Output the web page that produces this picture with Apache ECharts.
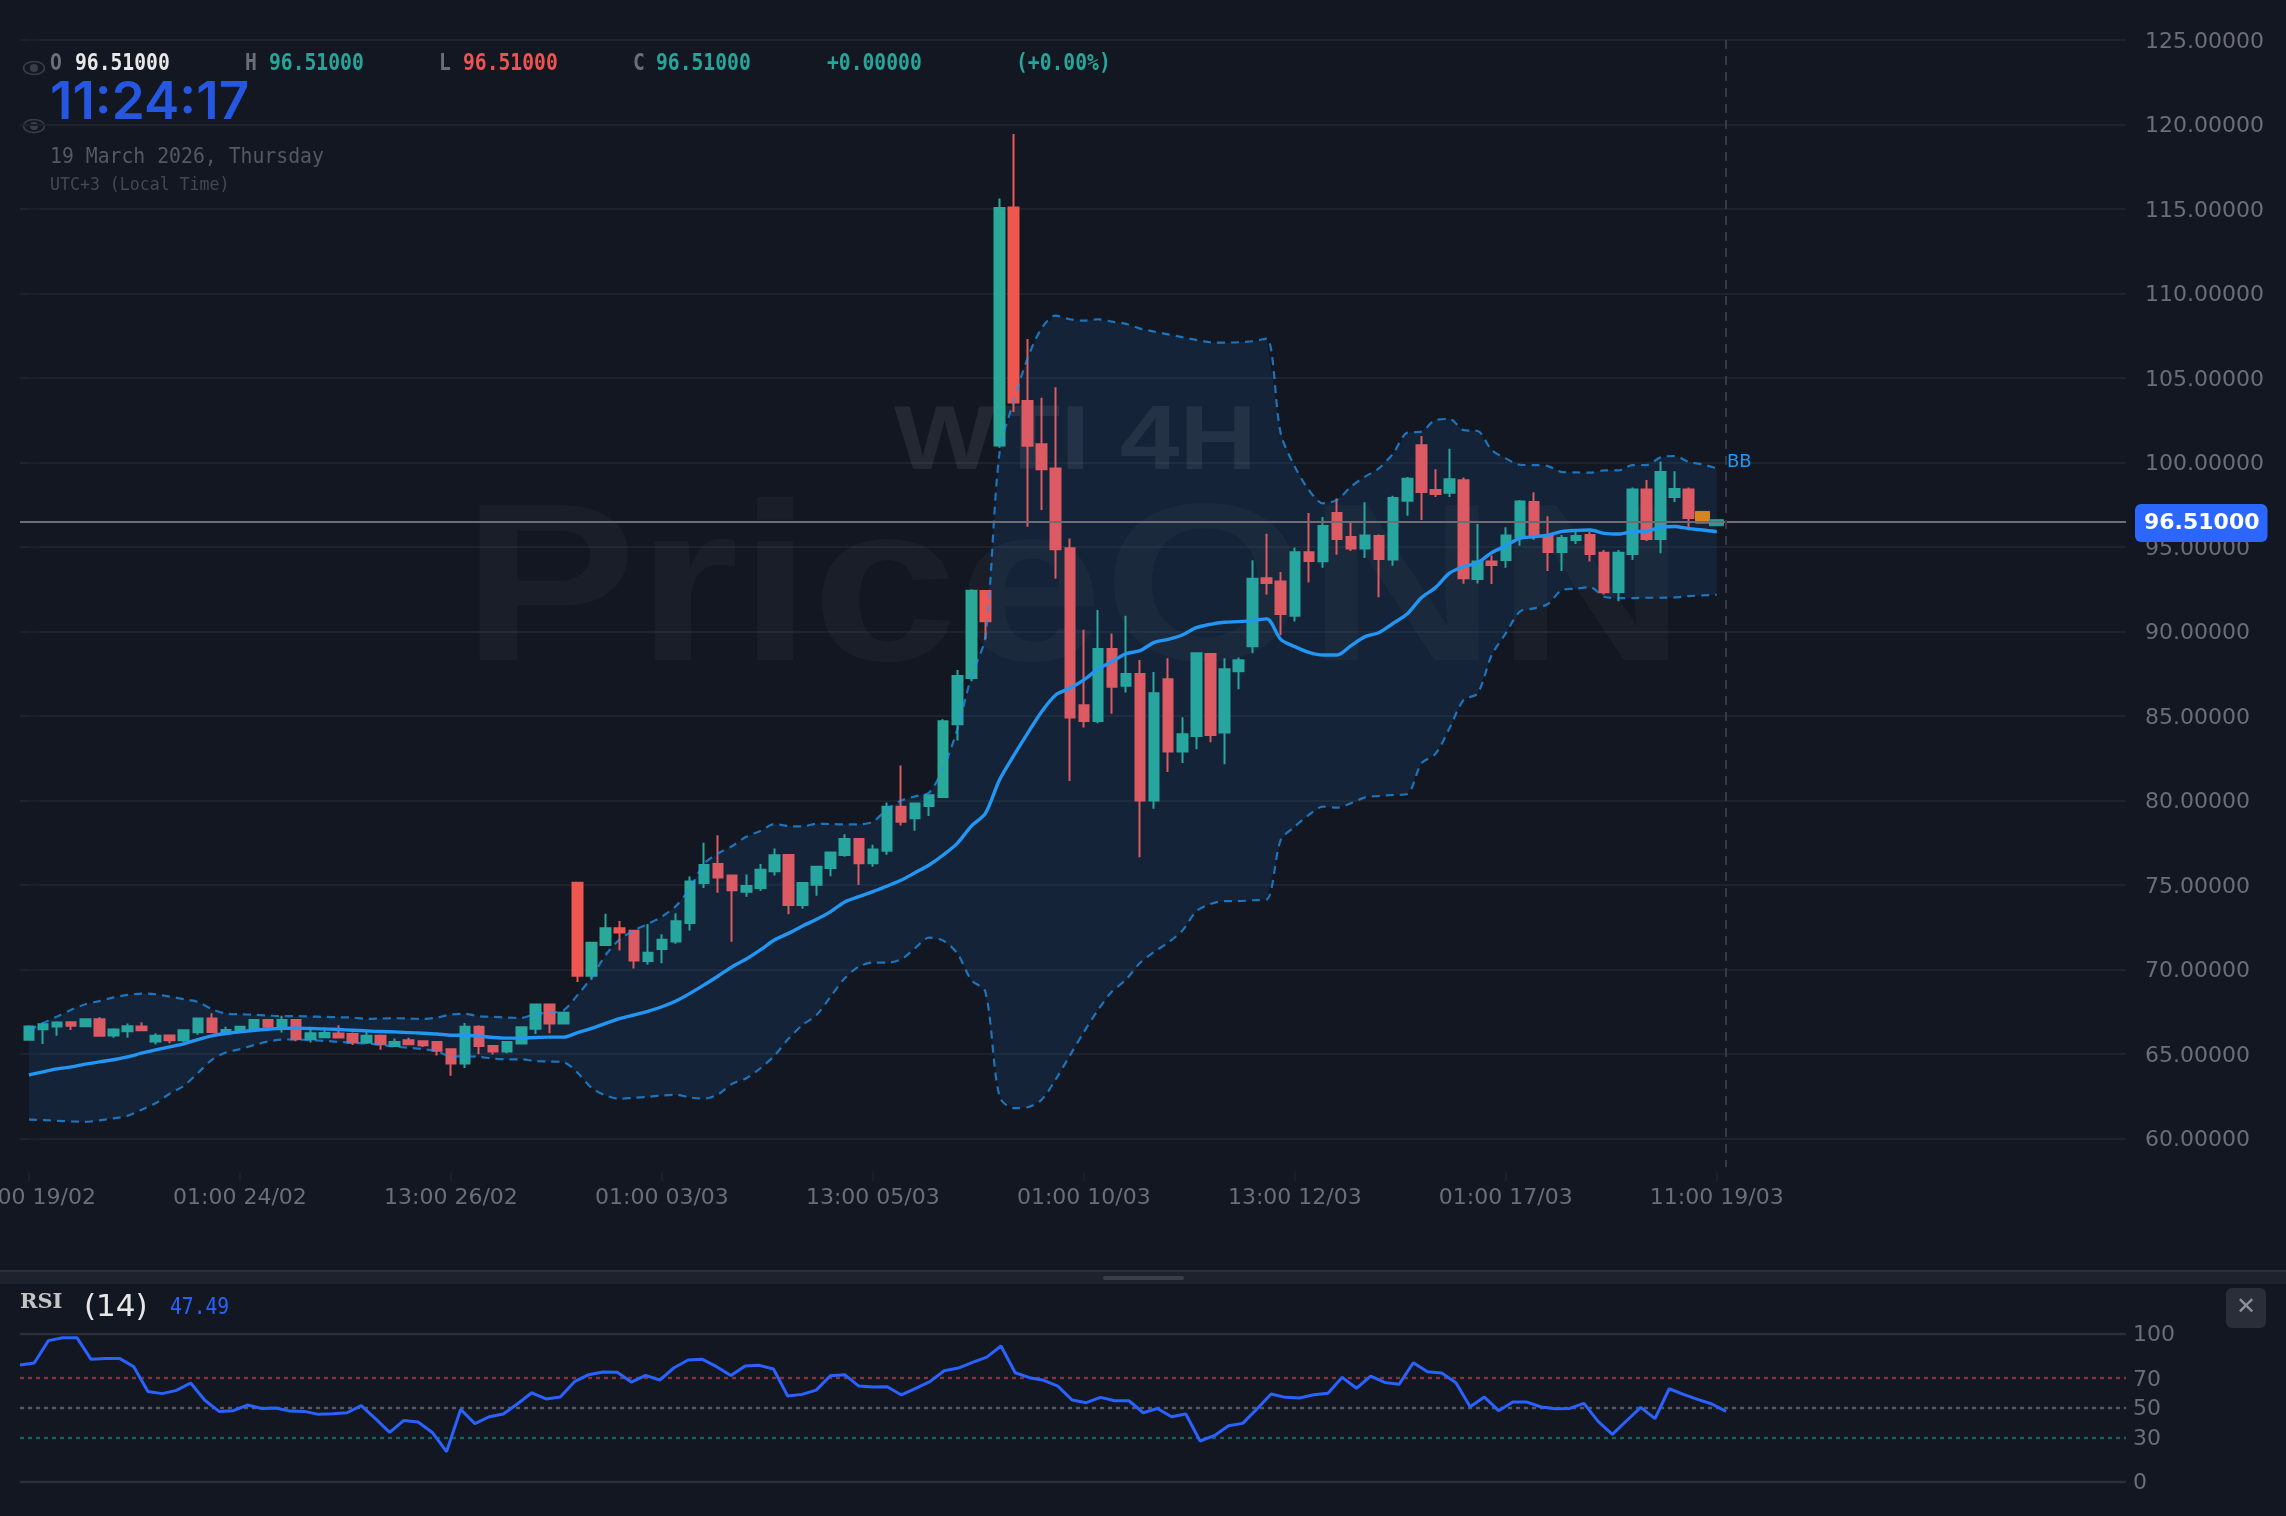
<!DOCTYPE html>
<html><head><meta charset="utf-8">
<style>html,body{margin:0;padding:0;background:#131722;overflow:hidden}#c{width:2286px;height:1516px}</style>
<script src="https://cdn.jsdelivr.net/npm/echarts@6/dist/echarts.min.js"></script>
</head><body><div id="c"></div>
<script>
const xTickLabels=["13:00 19/02","01:00 24/02","13:00 26/02","01:00 03/03","13:00 05/03","01:00 10/03","13:00 12/03","01:00 17/03","11:00 19/03"];
const priceTicks=[60,65,70,75,80,85,90,95,100,105,110,115,120,125];
const rsiTicks=[0,30,50,70,100];
const lastPrice=96.51;
const opens=[65.84,66.47,66.63,66.88,66.65,67.06,66.10,66.35,66.63,65.74,66.10,65.82,66.29,67.10,66.23,66.33,66.49,67.02,66.63,67.02,65.88,66.00,66.21,66.19,65.68,66.08,65.48,65.82,65.76,65.72,65.29,64.44,66.61,65.48,65.15,65.62,66.49,67.93,66.81,75.13,69.63,71.46,72.45,72.29,70.51,71.22,71.66,72.76,75.12,76.25,75.56,74.61,74.83,75.81,76.78,73.82,75.02,76.01,76.78,77.72,76.29,77.03,79.64,78.95,79.68,80.21,84.51,87.25,92.40,101.01,115.09,103.65,101.09,99.65,94.93,85.64,84.71,88.97,86.80,87.49,80.00,87.18,82.91,83.82,88.67,84.02,87.65,89.13,93.15,92.97,90.94,94.69,94.16,97.02,95.60,94.91,95.66,94.26,97.74,101.02,98.37,98.22,98.95,93.11,94.15,94.23,95.57,97.66,95.69,94.71,95.42,95.71,94.67,92.34,94.59,98.41,95.48,97.96,98.41,97.11,96.26];
const closes=[66.63,66.77,66.87,66.67,67.06,66.08,66.45,66.65,66.41,66.08,65.82,66.41,67.10,66.31,66.43,66.61,67.02,66.61,67.02,65.88,66.23,66.25,65.98,65.68,66.08,65.58,65.72,65.58,65.52,65.19,64.44,66.61,65.48,65.15,65.72,66.59,67.93,66.81,67.44,69.63,71.58,72.45,72.19,70.53,70.99,71.76,72.86,75.21,76.19,75.44,74.69,74.94,75.91,76.76,73.82,75.12,76.09,76.92,77.72,76.29,77.11,79.64,78.75,79.82,80.31,84.69,87.37,92.42,90.61,115.07,103.55,101.00,99.61,94.87,84.91,84.71,88.97,86.74,87.49,80.00,86.35,82.91,83.92,88.71,83.88,87.77,88.30,93.13,92.88,91.04,94.69,94.18,96.25,95.48,94.91,95.68,94.30,97.90,99.05,98.26,98.14,99.01,93.15,94.15,93.94,95.69,97.70,95.61,94.71,95.53,95.65,94.59,92.32,94.67,98.41,95.48,99.44,98.43,96.72,96.42,96.62];
const lows=[65.82,65.60,66.08,66.43,66.63,66.02,65.96,65.96,66.39,65.56,65.64,65.72,66.14,66.25,66.19,66.29,66.47,66.43,66.27,65.76,65.68,65.96,65.92,65.54,65.60,65.25,65.44,65.56,65.42,64.91,63.71,64.18,65.01,64.97,65.05,65.58,66.19,66.23,66.79,69.27,69.39,71.44,71.13,70.06,70.28,70.38,71.52,72.31,74.83,74.55,71.65,74.31,74.65,75.56,73.27,73.60,74.37,75.52,76.68,75.00,76.09,76.80,78.53,78.22,79.09,80.21,83.55,87.06,89.54,100.87,103.00,96.20,97.20,93.13,81.16,84.32,84.57,85.14,86.39,76.64,79.52,81.69,82.22,83.03,83.45,82.15,86.58,88.71,92.20,89.78,90.59,92.90,93.78,94.55,94.77,94.35,92.03,93.90,96.86,96.60,97.96,97.96,92.83,92.85,92.81,93.78,95.08,95.44,93.58,93.58,95.18,94.15,92.20,91.79,94.23,95.36,94.63,97.66,96.13,96.42,96.26];
const highs=[66.71,66.87,66.94,66.90,67.08,67.18,66.53,66.81,66.88,66.23,66.16,66.45,67.12,67.42,66.61,66.63,67.08,67.04,67.26,67.04,66.43,66.43,66.71,66.27,66.35,66.16,65.92,65.96,65.80,65.76,65.31,66.83,66.71,65.50,65.76,66.61,67.95,67.95,67.52,75.13,71.58,73.30,72.88,72.35,72.70,72.09,73.33,75.50,77.51,77.94,75.56,75.63,76.25,77.17,76.78,75.12,76.13,76.94,78.00,77.72,77.39,79.89,82.08,79.84,80.35,84.81,87.73,92.50,92.46,115.62,119.45,107.32,103.83,104.46,95.50,90.11,91.28,89.88,90.94,88.32,87.61,88.42,84.93,88.77,88.67,88.42,88.46,94.22,95.79,93.53,94.97,97.02,96.78,97.87,96.43,97.65,95.74,98.04,99.14,101.57,99.60,100.82,99.12,96.36,94.51,96.17,97.78,98.24,96.82,95.71,95.95,95.91,94.82,94.82,98.53,98.97,100.07,99.48,98.53,97.11,96.62];
const bbMid=[63.77,63.95,64.12,64.24,64.40,64.54,64.66,64.83,65.05,65.25,65.42,65.60,65.86,66.08,66.21,66.31,66.41,66.47,66.53,66.53,66.51,66.49,66.45,66.41,66.37,66.33,66.31,66.27,66.23,66.19,66.11,66.11,66.06,65.98,65.94,65.94,65.98,66.00,66.00,66.27,66.52,66.82,67.09,67.31,67.53,67.80,68.14,68.59,69.09,69.62,70.17,70.62,71.16,71.75,72.14,72.58,72.97,73.43,74.00,74.31,74.61,74.94,75.28,75.73,76.19,76.78,77.47,78.49,79.24,81.22,82.64,83.98,85.26,86.25,86.64,87.14,87.77,88.22,88.69,88.87,89.36,89.54,89.80,90.23,90.43,90.55,90.59,90.65,90.75,89.54,89.11,88.77,88.61,88.61,89.17,89.70,89.94,90.49,91.05,92.00,92.60,93.46,93.84,94.07,94.67,95.08,95.51,95.61,95.71,95.93,95.99,96.01,95.81,95.77,95.91,95.93,96.17,96.22,96.09,96.01,95.91];
const bbUp=[66.41,66.83,67.22,67.62,67.95,68.13,68.35,68.50,68.58,68.54,68.40,68.25,68.09,67.66,67.40,67.36,67.32,67.28,67.24,67.24,67.22,67.20,67.18,67.16,67.08,67.10,67.12,67.10,67.08,67.16,67.34,67.38,67.24,67.20,67.16,67.14,67.38,67.44,67.58,68.49,69.54,70.86,71.79,72.30,72.70,73.13,73.76,74.81,76.25,76.88,77.31,77.86,78.20,78.61,78.49,78.47,78.63,78.61,78.59,78.59,78.75,79.48,80.00,80.25,80.47,81.91,84.20,87.33,89.70,100.55,103.61,106.17,107.95,108.70,108.48,108.40,108.48,108.34,108.21,107.93,107.75,107.59,107.42,107.26,107.12,107.10,107.12,107.18,107.34,101.73,99.76,98.38,97.59,97.79,98.58,99.17,99.67,100.55,101.77,101.83,102.52,102.58,101.92,101.87,100.74,100.25,99.87,99.85,99.79,99.44,99.42,99.40,99.54,99.54,99.85,99.85,100.31,100.39,100.05,99.89,99.66];
const bbLow=[61.12,61.09,61.05,61.01,60.99,61.07,61.19,61.34,61.70,62.09,62.65,63.12,63.87,64.66,65.09,65.29,65.53,65.74,65.86,65.86,65.82,65.78,65.72,65.66,65.62,65.55,65.44,65.37,65.29,65.17,64.85,64.87,64.83,64.73,64.69,64.69,64.58,64.56,64.52,63.90,63.00,62.55,62.35,62.41,62.47,62.55,62.59,62.43,62.36,62.62,63.24,63.57,64.16,64.90,65.90,66.72,67.31,68.40,69.48,70.17,70.41,70.41,70.60,71.26,71.89,71.71,70.96,69.38,68.69,62.50,61.80,61.85,62.30,63.50,64.90,66.30,67.60,68.70,69.40,70.40,71.04,71.60,72.30,73.45,73.88,74.05,74.05,74.10,74.14,77.67,78.46,79.15,79.64,79.58,79.84,80.19,80.27,80.33,80.39,82.20,82.76,84.28,85.95,86.34,88.61,89.89,91.18,91.37,91.63,92.46,92.54,92.62,92.06,91.98,91.98,92.00,92.00,92.02,92.10,92.14,92.18];
const rsiValues=[78.8,80.2,95.3,97.3,97.3,82.7,83.3,83.3,77.7,61.0,59.5,61.7,66.7,55.0,47.5,48.0,51.8,49.5,49.8,47.7,47.5,45.5,45.9,46.6,51.4,42.6,33.3,41.4,40.3,33.3,20.3,48.9,39.2,43.9,45.7,52.7,60.1,55.9,57.2,67.6,72.3,74.1,73.9,67.3,71.8,68.7,77.0,82.2,82.7,77.7,71.8,78.2,78.6,76.1,57.9,59.0,61.9,71.6,72.3,64.6,64.0,64.2,58.6,63.1,67.6,75.0,76.8,80.6,84.2,91.7,73.6,70.3,68.5,64.6,55.2,53.4,57.0,54.7,54.7,46.6,49.5,43.9,45.7,27.5,31.1,37.8,39.4,49.1,59.2,57.0,56.5,58.8,59.7,70.5,63.1,71.4,67.1,65.8,80.4,74.3,73.4,66.9,50.7,57.2,48.0,53.8,53.8,50.5,49.3,49.5,52.9,40.8,32.0,41.2,50.2,42.6,62.8,59.0,55.6,52.5,47.49];
const vividBear=[39,42,68,70];
const vividBull=[40,41,65,67,69];

const TEAL='#26a69f',RED='#db5a63',VTEAL='#2aa998',VRED='#f05650';
const n=opens.length;
const mainIdx=[...Array(n-2).keys()];
const candleData=mainIdx.map(i=>{
  const it={value:[i,opens[i],closes[i],lows[i],highs[i]]};
  if(vividBear.includes(i)) it.itemStyle={color0:VRED,borderColor0:VRED};
  if(vividBull.includes(i)) it.itemStyle={color:VTEAL,borderColor:VTEAL};
  return it;
});
const liveData=[n-2,n-1].map(i=>{
  const c=i===n-2?'#d4851f':'#2a9d97';
  return {value:[i,opens[i],closes[i],lows[i],highs[i]],itemStyle:{color:c,color0:c,borderColor:c,borderColor0:c,borderWidth:1}};
});
const pair=a=>a.map((v,i)=>[i,v]);
const AXIS='#6b6e78',GRID='#1e222c',SANS='"DejaVu Sans"',MONO='"DejaVu Sans Mono"';
const txt=(x,y,text,fill,font,sx,sy,z)=>({type:'text',x,y,scaleX:sx||1,scaleY:sy||1,z:z||100,silent:true,
  style:{text,x:0,y:0,fill,font,textAlign:'left',textVerticalAlign:'middle'}});
const eye=(cx,cy)=>({type:'group',x:cx,y:cy,z:100,silent:true,children:[
  {type:'ellipse',shape:{cx:0,cy:0,rx:10.5,ry:6.5},style:{fill:'none',stroke:'#3a3d46',lineWidth:1.6}},
  {type:'circle',shape:{cx:0,cy:0,r:4},style:{fill:'#3a3d46'}}]});
const HB='bold 23px '+MONO;
const graphics=[
  txt(462,598,'PriceONN','rgba(255,255,255,0.03)','bold 225px "Liberation Sans"',1.165,1,1),
  txt(894,444,'WTI 4H','rgba(255,255,255,0.075)','bold 90px "Liberation Sans"',1.19,1,1),
  eye(34,68),eye(34,126),
  txt(50,64.5,'O','#6b6e78',HB,.855),txt(75,64.5,'96.51000','#e8e8e8',HB,.855),
  txt(245,64.5,'H','#6b6e78',HB,.855),txt(269,64.5,'96.51000','#26a69a',HB,.855),
  txt(439,64.5,'L','#6b6e78',HB,.855),txt(463,64.5,'96.51000','#ef5350',HB,.855),
  txt(633,64.5,'C','#6b6e78',HB,.855),txt(656,64.5,'96.51000','#26a69a',HB,.855),
  txt(827,64.5,'+0.00000','#26a69a',HB,.855),txt(1016,64.5,'(+0.00%)','#26a69a',HB,.855),
  txt(50,103,'11:24:17','#2557e0','600 52px Inter',1.02),
  txt(50,157,'19 March 2026, Thursday','#555862','21.5px '+MONO,.92),
  txt(50,185,'UTC+3 (Local Time)','#454852','18px '+MONO,.92),
  txt(1727,462,'BB','#2196f3','18px '+SANS),
  {type:'rect',z:100,silent:true,shape:{x:0,y:1270,width:2286,height:2},style:{fill:'#2a2e39'}},
  {type:'rect',z:100,silent:true,shape:{x:0,y:1272,width:2286,height:12},style:{fill:'#1e222c'}},
  {type:'rect',z:101,silent:true,shape:{x:1103,y:1276,width:81,height:4,r:2},style:{fill:'#3a3e48'}},
  txt(20,1303,'RSI','#c4c4c4','bold 21px "DejaVu Serif"'),
  txt(84,1308,'(14)','#e6e6e6','31px '+SANS),
  txt(170,1308,'47.49','#2962ff','23px '+MONO,.855),
  {type:'rect',z:100,silent:true,shape:{x:2226,y:1288,width:40,height:40,r:6},style:{fill:'#2a2e39'}},
  {type:'text',x:2246,y:1308,z:101,silent:true,style:{text:'✕',fill:'#8c8f98',font:'24px '+SANS,textAlign:'center',textVerticalAlign:'middle'}}
];
const rsiLevel=(v,c,t)=>({yAxis:v,lineStyle:{color:c,type:t,width:2.4}});
const bandPolygon=(params,api)=>{
  if(params.dataIndex!==0) return;
  const top=bbUp.map((v,i)=>api.coord([i,v]));
  const bottom=bbLow.map((v,i)=>api.coord([i,v])).reverse();
  return {type:'polygon',shape:{points:top.concat(bottom)},style:{fill:'rgba(33,150,243,0.1)'},silent:true};
};
const chart=echarts.init(document.getElementById('c'),null,{width:2286,height:1516});
chart.setOption({
  backgroundColor:'#131722',animation:false,tooltip:{show:false},
  grid:[{left:20,right:160,top:40.1,height:1131.9,outerBoundsMode:'none'},{left:20,right:160,top:1333.7,height:148,outerBoundsMode:'none'}],
  xAxis:[
    {type:'value',gridIndex:0,min:-0.64,max:149.1,splitLine:{show:false},axisLine:{show:false},
     axisTick:{show:true,length:10,lineStyle:{color:'#1a1e28',width:2},customValues:xTickLabels.map((_,k)=>k*15)},
     axisLabel:{color:AXIS,fontFamily:SANS,fontSize:22,margin:15,customValues:xTickLabels.map((_,k)=>k*15),formatter:v=>xTickLabels[Math.round(v/15)]}},
    {type:'value',gridIndex:1,min:0,max:148.13,show:false}
  ],
  yAxis:[
    {type:'value',gridIndex:0,position:'right',min:58.02,max:125,axisLine:{show:false},
     splitLine:{show:true,lineStyle:{color:GRID,width:2}},
     axisTick:{show:true,length:11,lineStyle:{color:'#1a1e28',width:2},customValues:priceTicks},
     axisLabel:{color:AXIS,fontFamily:SANS,fontSize:22,margin:19,verticalAlign:'top',lineHeight:4,customValues:priceTicks,formatter:v=>v.toFixed(5)}},
    {type:'value',gridIndex:1,position:'right',min:0,max:100,axisLine:{show:false},
     splitLine:{show:false},axisTick:{show:false,customValues:rsiTicks},
     axisLabel:{color:AXIS,fontFamily:SANS,fontSize:22,margin:7,verticalAlign:'top',lineHeight:4,customValues:rsiTicks,formatter:v=>String(v)}}
  ],
  graphic:graphics,
  series:[
    {type:'custom',name:'bbFill',data:pair(bbUp),renderItem:bandPolygon,encode:{x:0,y:1},z:2},
    {type:'candlestick',name:'WTI',data:candleData,barWidth:10,z:3,
     itemStyle:{color:TEAL,color0:RED,borderColor:TEAL,borderColor0:RED,borderWidth:2}},
    {type:'candlestick',name:'live',data:liveData,barWidth:14,z:3},
    {type:'line',name:'bbUpper',data:pair(bbUp),smooth:.3,symbol:'none',lineStyle:{color:'rgba(33,150,243,0.72)',width:2.2,type:[8,6]},z:4},
    {type:'line',name:'bbLower',data:pair(bbLow),smooth:.3,symbol:'none',lineStyle:{color:'rgba(33,150,243,0.72)',width:2.2,type:[8,6]},z:4},
    {type:'line',name:'bbMiddle',data:pair(bbMid),smooth:.3,symbol:'none',lineStyle:{color:'#2196f3',width:3.4},z:5,
     markLine:{silent:true,symbol:'none',animation:false,data:[
       {yAxis:lastPrice,lineStyle:{color:'#6c6e73',type:'solid',width:2},
        label:{show:true,position:'end',distance:9,offset:[0,1.5],formatter:lastPrice.toFixed(5),color:'#fff',fontFamily:SANS,fontWeight:'bold',fontSize:22,backgroundColor:'#2b66ff',borderRadius:6,padding:[8,8,8,9]}},
       [{coord:[120.65,125],lineStyle:{color:'#363a44',type:[9,7],width:2},label:{show:false}},{coord:[120.65,58.32]}]
     ]}},
    {type:'line',name:'RSI',xAxisIndex:1,yAxisIndex:1,data:pair(rsiValues),symbol:'none',lineStyle:{color:'#2962ff',width:3},z:5,
     markLine:{silent:true,symbol:'none',animation:false,label:{show:false},data:[
       rsiLevel(100,'#2a2e39','solid'),rsiLevel(0,'#2a2e39','solid'),
       rsiLevel(70,'rgba(239,83,80,0.5)',[4,4]),rsiLevel(50,'#565963',[4,4]),rsiLevel(30,'rgba(38,166,154,0.5)',[4,4])
     ]}}
  ]
});
</script></body></html>
